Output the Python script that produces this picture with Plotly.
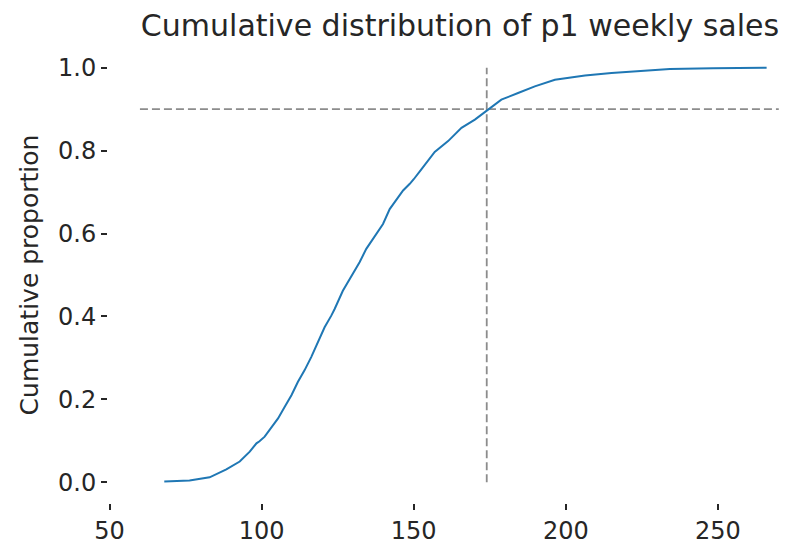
import plotly.graph_objects as go

# Empirical CDF of p1 weekly sales (units sold -> cumulative share of weeks)
sales = [68, 76.3, 82.9, 88.4, 92.8, 96.1, 98.3, 99.3, 101.0, 102.6, 105.4, 107.6,
         109.8, 111.9, 114.1, 116.3, 118.5, 120.7, 122.9, 124.0, 126.7, 129.5,
         132.2, 134.4, 136.5, 139.9, 142.1, 144.3, 146.5, 148.7, 150.0, 152.5,
         156.9, 161.3, 165.7, 170.1, 174.4, 178.8, 184.3, 189.8, 196.4, 206.3,
         215.0, 221.6, 234.2, 248.4, 266.0]
cum_prop = [0.002, 0.004, 0.012, 0.031, 0.050, 0.074, 0.094, 0.099, 0.110, 0.126,
            0.154, 0.182, 0.210, 0.242, 0.270, 0.302, 0.338, 0.374, 0.402, 0.418,
            0.462, 0.498, 0.531, 0.563, 0.587, 0.623, 0.659, 0.683, 0.704, 0.720,
            0.731, 0.755, 0.797, 0.823, 0.855, 0.875, 0.899, 0.923, 0.939, 0.955,
            0.971, 0.981, 0.987, 0.991, 0.997, 0.999, 1.0]

# Reference lines: 90th percentile of weekly sales and the 0.9 level
p90_sales = 174
level = 0.9
hline_x = [60, 270]
vline_y = [0, 1]

x_ticks = [50, 100, 150, 200, 250]
y_ticks = [0.0, 0.2, 0.4, 0.6, 0.8, 1.0]

ref_style = dict(color="#8c8c8c", width=1.8, dash="8px,4px")

fig = go.Figure()
fig.add_trace(go.Scatter(x=hline_x, y=[level, level], mode="lines",
                         line=ref_style, hoverinfo="skip"))
fig.add_trace(go.Scatter(x=[p90_sales, p90_sales], y=vline_y, mode="lines",
                         line=ref_style, hoverinfo="skip"))
fig.add_trace(go.Scatter(x=sales, y=cum_prop, mode="lines",
                         line=dict(color="#1f77b4", width=2)))

font_family = "DejaVu Sans"
text_color = "#262626"

fig.update_layout(
    width=787, height=545,
    margin=dict(l=108, r=0, t=47, b=40),
    paper_bgcolor="white", plot_bgcolor="white",
    showlegend=False,
    font=dict(family=font_family, color=text_color, size=24),
    title=dict(text="Cumulative distribution of p1 weekly sales",
               x=460 / 787, xref="container", xanchor="center",
               y=1 - 25 / 545, yref="container", yanchor="middle",
               font=dict(size=30, family=font_family, color=text_color)),
)
fig.update_xaxes(
    range=[49.5, 272.7], tickvals=x_ticks, ticktext=[str(v) for v in x_ticks],
    showgrid=False, zeroline=False, showline=False,
    ticks="outside", ticklen=6, tickwidth=1.5, tickcolor=text_color,
    tickfont=dict(size=24),
)
fig.update_yaxes(
    range=[-0.05, 1.05], tickvals=y_ticks, ticktext=[f"{v:.1f}" for v in y_ticks],
    showgrid=False, zeroline=False, showline=False,
    ticks="outside", ticklen=6, tickwidth=1.5, tickcolor=text_color,
    tickfont=dict(size=24),
    title=dict(text="Cumulative proportion", font=dict(size=25), standoff=12),
)

fig.write_html("out.html")
